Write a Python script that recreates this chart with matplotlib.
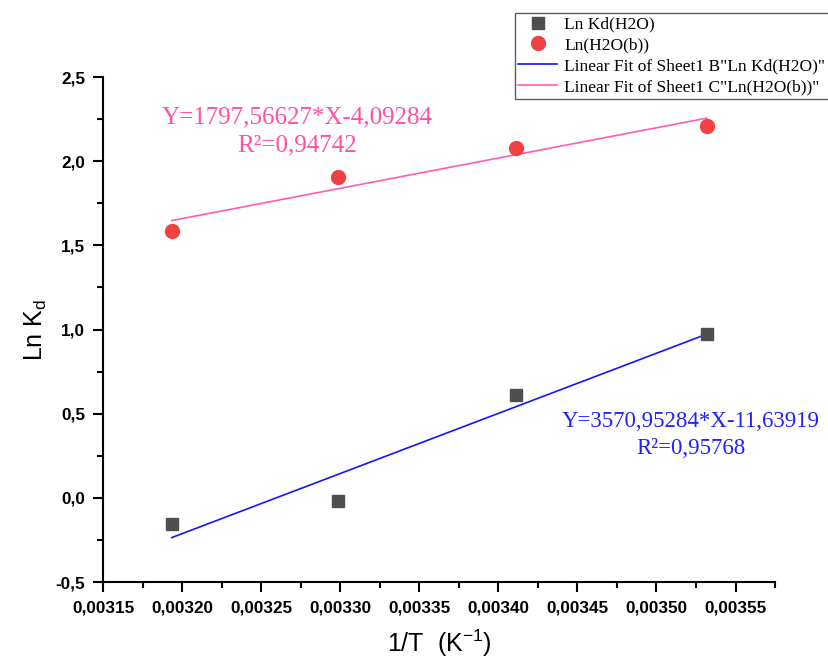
import matplotlib.pyplot as plt
from matplotlib.ticker import MultipleLocator, FuncFormatter
from matplotlib.lines import Line2D
import numpy as np

plt.rcParams['axes.unicode_minus'] = False

# 1/T for 313.15, 303.15, 293.15 and 283.15 K
inv_T = [1 / 313.15, 1 / 303.15, 1 / 293.15, 1 / 283.15]
ln_kd_h2o = [-0.155, -0.019, 0.611, 0.974]
ln_h2o_b = [1.587, 1.905, 2.079, 2.209]

# linear fit results (slope, intercept, R^2)
fit_kd = [3570.95284, -11.63919, 0.95768]
fit_b = [1797.56627, -4.09284, 0.94742]

legend_labels = ['Ln Kd(H2O)', 'Ln(H2O(b))',
                 'Linear Fit of Sheet1 B"Ln Kd(H2O)"',
                 'Linear Fit of Sheet1 C"Ln(H2O(b))"']


def comma(fmt):
    return FuncFormatter(lambda v, pos: format(v, fmt).replace('.', ','))


def fit_text(fit):
    return ('Y=' + format(fit[0], '.5f').replace('.', ',') + '*X' +
            format(fit[1], '.5f').replace('.', ',') +
            '\nR²=' + format(fit[2], '.5f').replace('.', ','))


fig = plt.figure(figsize=(8.29, 6.59), dpi=100)
ax = fig.add_axes([0.1246, 0.1168, 0.8103, 0.7663])

ax.plot(inv_T, ln_kd_h2o, 's', color='#4f4f4f', markersize=9, zorder=3)
ax.plot(inv_T, ln_h2o_b, 'o', color='#f04242', markersize=10, zorder=3)

xs = np.array([inv_T[0], inv_T[-1]])
ax.plot(xs, fit_kd[0] * xs + fit_kd[1], color='#1414ff', lw=1.2)
ax.plot(xs, fit_b[0] * xs + fit_b[1], color='#ff5cb4', lw=1.2)

ax.set_xlim(0.00315, 0.003575)
ax.set_ylim(-0.5, 2.5)
ax.xaxis.set_major_locator(MultipleLocator(0.00005))
ax.xaxis.set_minor_locator(MultipleLocator(0.000025))
ax.yaxis.set_major_locator(MultipleLocator(0.5))
ax.yaxis.set_minor_locator(MultipleLocator(0.25))
ax.xaxis.set_major_formatter(comma('.5f'))
ax.yaxis.set_major_formatter(comma('.1f'))

for s in ['top', 'right']:
    ax.spines[s].set_visible(False)
for s in ['left', 'bottom']:
    ax.spines[s].set_linewidth(1.5)

ax.tick_params(which='major', direction='out', length=7, width=1.5, pad=6)
ax.tick_params(which='minor', direction='out', length=4, width=1.5)
for lab in ax.get_xticklabels() + ax.get_yticklabels():
    lab.set_fontfamily('Liberation Sans')
    lab.set_fontweight('bold')
    lab.set_fontsize(12.3)

ax.set_xlabel('1/T  (K$^{\\mathregular{-1}}$)', family='Liberation Sans',
              fontsize=18, labelpad=9)
ax.set_ylabel('Ln K$_{\\mathregular{d}}$', family='Liberation Sans',
              fontsize=18, labelpad=5)

ax.text(0.288, 0.893, fit_text(fit_b),
        transform=ax.transAxes, ha='center', va='center', color='#ff4fa8',
        family='Liberation Serif', fontsize=18, linespacing=1.35)
ax.text(0.875, 0.291, fit_text(fit_kd),
        transform=ax.transAxes, ha='center', va='center', color='#1f1fff',
        family='Liberation Serif', fontsize=16.5, linespacing=1.4)

handles = [
    Line2D([], [], ls='none', marker='s', color='#4f4f4f', markersize=9),
    Line2D([], [], ls='none', marker='o', color='#f04242', markersize=10),
    Line2D([], [], color='#1414ff', lw=1.2),
    Line2D([], [], color='#ff5cb4', lw=1.2),
]
leg = fig.legend(handles, legend_labels, loc='upper left',
                 bbox_to_anchor=(515 / 829, 1 - 13 / 659),
                 prop={'family': 'Liberation Serif', 'size': 12.5},
                 frameon=True, fancybox=False, edgecolor='#333333',
                 borderpad=0.2, labelspacing=0.27, handlelength=2.2,
                 handletextpad=0.45, borderaxespad=0)
leg.get_frame().set_linewidth(1.0)

fig.savefig('out.png', dpi=100)
